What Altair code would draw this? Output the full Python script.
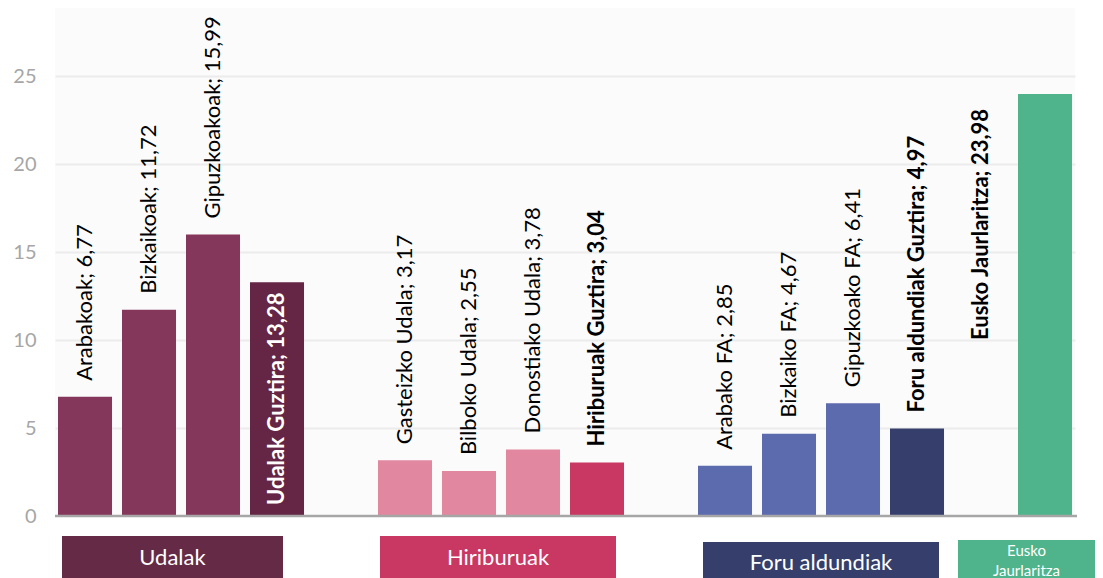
import altair as alt
import pandas as pd

# ---------------- data ----------------
categories = ["Arabakoak", "Bizkaikoak", "Gipuzkoakoak", "Udalak Guztira",
              "Gasteizko Udala", "Bilboko Udala", "Donostiako Udala", "Hiriburuak Guztira",
              "Arabako FA", "Bizkaiko FA", "Gipuzkoako FA", "Foru aldundiak Guztira",
              "Eusko Jaurlaritza"]
values = [6.77, 11.72, 15.99, 13.28,
          3.17, 2.55, 3.78, 3.04,
          2.85, 4.67, 6.41, 4.97,
          23.98]
value_text = ["6,77", "11,72", "15,99", "13,28",
              "3,17", "2,55", "3,78", "3,04",
              "2,85", "4,67", "6,41", "4,97",
              "23,98"]
groups = ["Udalak"] * 4 + ["Hiriburuak"] * 4 + ["Foru aldundiak"] * 4 + ["Eusko Jaurlaritza"]
is_total = [False, False, False, True] * 3 + [True]

group_names = ["Udalak", "Hiriburuak", "Foru aldundiak", "Eusko Jaurlaritza"]
group_box_text = ["Udalak", "Hiriburuak", "Foru aldundiak", "Eusko\nJaurlaritza"]
y_ticks = [0, 5, 10, 15, 20, 25]

# ---------------- styles ----------------
bar_colors = {"Udalak": ("#85375b", "#652544"),
              "Hiriburuak": ("#e287a0", "#c93763"),
              "Foru aldundiak": ("#5c6aae", "#363f6c"),
              "Eusko Jaurlaritza": ("#4fb38b", "#4fb38b")}
box_colors = {"Udalak": "#642a46", "Hiriburuak": "#c93763",
              "Foru aldundiak": "#363f6c", "Eusko Jaurlaritza": "#4fb38b"}
FONT = "Lato"
W, H = 1020, 570
PX_PER_UNIT = 17.6           # vertical pixels per value unit
SLOT_PX = 64                 # horizontal pixels per bar slot
BAR_FRAC = 0.844             # bar width as a fraction of a slot
Y_MIN = -(H - 508) / PX_PER_UNIT
Y_MAX = 508 / PX_PER_UNIT
X_MIN = -3 / SLOT_PX
X_MAX = X_MIN + W / SLOT_PX
GAP = 16 / PX_PER_UNIT

# ---------------- tables ----------------
rows = []
for i, (cat, v, vt, g, tot) in enumerate(zip(categories, values, value_text, groups, is_total)):
    gi = group_names.index(g)
    slot = gi * 5 + (i - gi * 4)
    color = bar_colors[g][1] if tot else bar_colors[g][0]
    label = f"{cat}; {vt}"
    lx = slot + BAR_FRAC / 2
    ly = v + GAP
    lcolor = "black"
    if g == "Udalak" and tot:
        ly = 11 / PX_PER_UNIT
        lcolor = "white"
    if g == "Eusko Jaurlaritza":
        lx = slot - 1 + BAR_FRAC / 2
        ly = 176 / PX_PER_UNIT
    rows.append(dict(cat=cat, value=v, x0=slot, x1=slot + BAR_FRAC, color=color,
                     label=label, lx=lx, ly=ly, lcolor=lcolor, bold=tot))
df = pd.DataFrame(rows)

box_rows = []
box_tops = {"Udalak": -20, "Hiriburuak": -20, "Foru aldundiak": -26, "Eusko Jaurlaritza": -24}
box_text_y = {"Udalak": -42, "Hiriburuak": -42, "Foru aldundiak": -47, "Eusko Jaurlaritza": -35}
box_start_px = {"Udalak": 4, "Hiriburuak": 2, "Foru aldundiak": 5, "Eusko Jaurlaritza": -60}
box_width_px = {"Udalak": 221, "Hiriburuak": 236, "Foru aldundiak": 236, "Eusko Jaurlaritza": 137}
for gi, g in enumerate(group_names):
    first = gi * 5
    x0 = first + box_start_px[g] / SLOT_PX
    x1 = x0 + box_width_px[g] / SLOT_PX
    box_rows.append(dict(group=g, x0=x0, x1=x1, xm=(x0 + x1) / 2,
                         top=box_tops[g] / PX_PER_UNIT, bottom=Y_MIN - 1,
                         ty=box_text_y[g] / PX_PER_UNIT, color=box_colors[g],
                         text=group_box_text[gi],
                         size=15 if g == "Eusko Jaurlaritza" else 22))
bdf = pd.DataFrame(box_rows)

xs = alt.Scale(domain=[X_MIN, X_MAX], nice=False, zero=False)
ys = alt.Scale(domain=[Y_MIN, Y_MAX], nice=False, zero=False)

base = alt.Chart(df)

white_under = alt.Chart(pd.DataFrame({"a": [0]})).mark_rect(color="white").encode(
    x=alt.value(0), x2=alt.value(W),
    y=alt.Y("a:Q", scale=ys, axis=alt.Axis(values=y_ticks, grid=True, gridColor="#ececec",
                                            gridWidth=2, domain=False, ticks=False,
                                            labelColor="#a6a6a6", labelFontSize=20,
                                            labelFont=FONT, labelPadding=19, title=None)),
    y2=alt.value(H),
)

bars = base.mark_rect().encode(
    x=alt.X("x0:Q", scale=xs, axis=None), x2="x1:Q",
    y=alt.Y("value:Q", scale=ys), y2=alt.datum(0),
    color=alt.Color("color:N", scale=None),
)

baseline = alt.Chart(pd.DataFrame({"a": [0]})).mark_rule(color="#a6a6a6", strokeWidth=2.5).encode(
    y=alt.Y("a:Q", scale=ys), x=alt.value(0), x2=alt.value(W + 2)
)


def label_layer(bold):
    return base.transform_filter(
        alt.datum.bold if bold else ~alt.datum.bold
    ).mark_text(angle=270, align="left", baseline="middle", font=FONT, fontSize=22,
                fontWeight="bold" if bold else "normal").encode(
        x=alt.X("lx:Q", scale=xs), y=alt.Y("ly:Q", scale=ys),
        text="label:N",
        color=alt.Color("lcolor:N", scale=None),
    )


boxes = alt.Chart(bdf).mark_rect(clip=False).encode(
    x=alt.X("x0:Q", scale=xs), x2="x1:Q",
    y=alt.Y("top:Q", scale=ys), y2="bottom:Q",
    color=alt.Color("color:N", scale=None),
)

box_labels = alt.Chart(bdf).mark_text(color="white", font=FONT, lineBreak="\n",
                                      lineHeight=20, baseline="middle", align="center").encode(
    x=alt.X("xm:Q", scale=xs), y=alt.Y("ty:Q", scale=ys),
    text="text:N",
    size=alt.Size("size:Q", scale=None),
)

chart = alt.layer(white_under, bars, baseline, label_layer(False), label_layer(True),
                  boxes, box_labels).properties(
    width=W, height=H,
    autosize=alt.AutoSizeParams(type="none"),
    padding={"left": 47, "top": 0, "right": 20, "bottom": 0},
    background="white",
).configure_view(stroke=None, fill="#fbfbfb")

chart.save("out.html", embed_options={"renderer": "svg", "actions": False})
